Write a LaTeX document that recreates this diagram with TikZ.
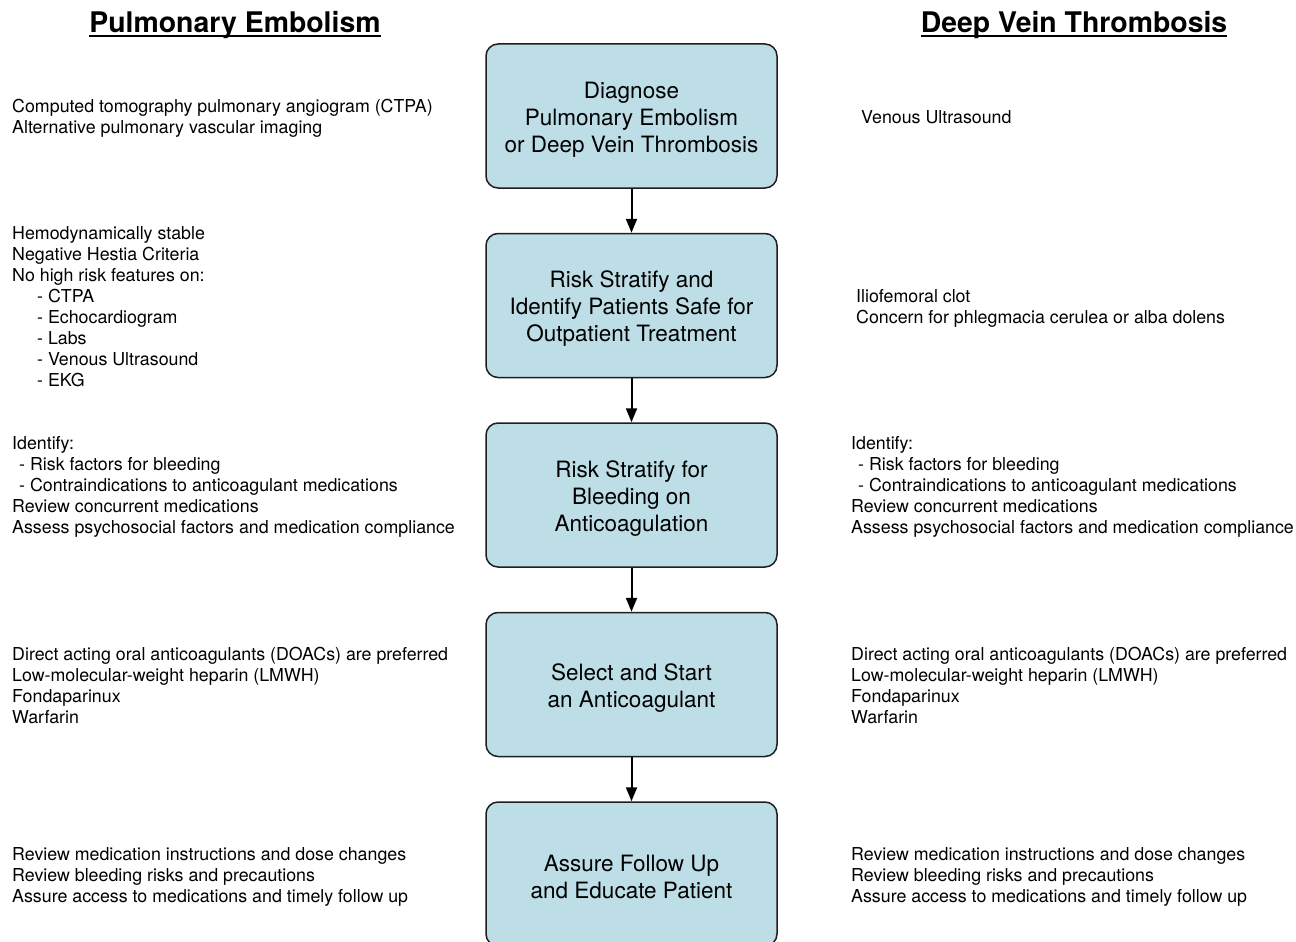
\documentclass[tikz,border=0pt]{standalone}
\usepackage{fontspec}
\setmainfont{TeX Gyre Heros}
\usetikzlibrary{arrows.meta}
\definecolor{boxblue}{RGB}{189,222,230}
\definecolor{boxedge}{RGB}{30,30,30}
\newcommand{\topgap}{\rule{0pt}{23pt}}
\tikzset{
  stepbox/.style={draw=boxedge, line width=1.5pt, fill=boxblue, rounded corners=12pt,
    minimum width=291pt, minimum height=144pt, align=center, inner sep=0pt,
    font=\fontsize{22.5}{27}\selectfont},
  info/.style={anchor=north west, inner sep=0pt, align=left,
    font=\fontsize{17.8}{21}\selectfont},
  ttl/.style={anchor=base, inner sep=0pt, font=\fontsize{28.4}{34}\selectfont\bfseries},
  flow/.style={line width=2pt, -{Triangle[width=11pt,length=14pt]}},
  uline/.style={line width=2pt}
}
\begin{document}
\begin{tikzpicture}[x=1pt,y=-1pt]
\useasboundingbox (0,0) rectangle (1296,942);

% titles
\node[ttl] (tpe) at (235,33) {Pulmonary Embolism};
\node[ttl] (tdvt) at (1074,33) {Deep Vein Thrombosis};
\draw[uline] ([yshift=-3.5pt]tpe.base west) -- ([yshift=-3.5pt]tpe.base east);
\draw[uline] ([yshift=-3.5pt]tdvt.base west) -- ([yshift=-3.5pt]tdvt.base east);

% boxes
\node[stepbox] (b1) at (631.5,116) {\topgap Diagnose\\Pulmonary Embolism\\or Deep Vein Thrombosis};
\node[stepbox] (b2) at (631.5,305.5) {\topgap Risk Stratify and\\Identify Patients Safe for\\Outpatient Treatment};
\node[stepbox] (b3) at (631.5,495) {\topgap Risk Stratify for\\Bleeding on\\Anticoagulation};
\node[stepbox] (b4) at (631.5,684.5) {\topgap Select and Start\\an Anticoagulant};
\node[stepbox] (b5) at (631.5,874) {\topgap Assure Follow Up\\and Educate Patient};

\draw[flow] (b1) -- (b2);
\draw[flow] (b2) -- (b3);
\draw[flow] (b3) -- (b4);
\draw[flow] (b4) -- (b5);

% left texts
\node[info] (l1) at (12,98) {\strut Computed tomography pulmonary angiogram (CTPA)\\Alternative pulmonary vascular imaging};
\node[info] (l2) at (12,225) {\strut Hemodynamically stable\\Negative Hestia Criteria\\No high risk features on:\\\hspace*{25pt}- CTPA\\\hspace*{25pt}- Echocardiogram\\\hspace*{25pt}- Labs\\\hspace*{25pt}- Venous Ultrasound\\\hspace*{25pt}- EKG};
\node[info] (l3) at (12,435) {\strut Identify:\\\hspace*{7pt}- Risk factors for bleeding\\\hspace*{7pt}- Contraindications to anticoagulant medications\\Review concurrent medications\\Assess psychosocial factors and medication compliance};
\node[info] (l4) at (12,646) {\strut Direct acting oral anticoagulants (DOACs) are preferred\\Low-molecular-weight heparin (LMWH)\\Fondaparinux\\Warfarin};
\node[info] (l5) at (12,846) {\strut Review medication instructions and dose changes\\Review bleeding risks and precautions\\Assure access to medications and timely follow up};

% right texts
\node[info] (r1) at (861,109) {\strut Venous Ultrasound};
\node[info] (r2) at (856,288) {\strut Iliofemoral clot\\Concern for phlegmacia cerulea or alba dolens};
\node[info] (r3) at (851,435) {\strut Identify:\\\hspace*{7pt}- Risk factors for bleeding\\\hspace*{7pt}- Contraindications to anticoagulant medications\\Review concurrent medications\\Assess psychosocial factors and medication compliance};
\node[info] (r4) at (851,646) {\strut Direct acting oral anticoagulants (DOACs) are preferred\\Low-molecular-weight heparin (LMWH)\\Fondaparinux\\Warfarin};
\node[info] (r5) at (851,846) {\strut Review medication instructions and dose changes\\Review bleeding risks and precautions\\Assure access to medications and timely follow up};
\end{tikzpicture}
\end{document}
